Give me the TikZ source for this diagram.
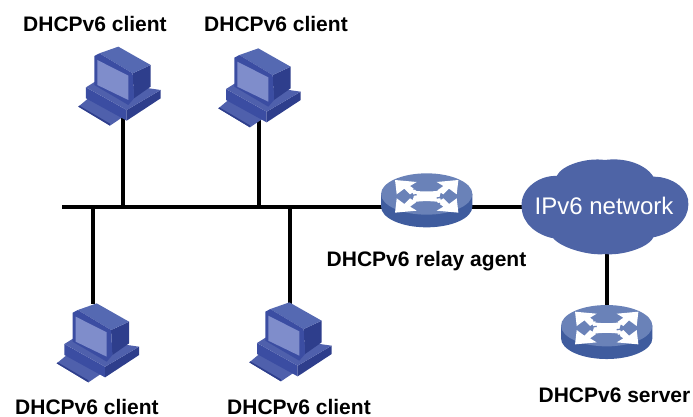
\documentclass[tikz,border=0pt]{standalone}
\usepackage{fontspec}
\setmainfont{Liberation Sans}
\definecolor{pcdark}{HTML}{2E3E8C}
\definecolor{pcmid}{HTML}{4F60AC}
\definecolor{pctop}{HTML}{5569B2}
\definecolor{pcscreen}{HTML}{7F8DCB}
\definecolor{pcframe}{HTML}{3B4DA2}
\definecolor{rttop}{HTML}{6A82B8}
\definecolor{rtside}{HTML}{3F5C9E}
\definecolor{cloudc}{HTML}{4E64A6}
\tikzset{
  lnk/.style={line width=3.7pt,black},
  lbl/.style={font=\bfseries\fontsize{21}{24}\selectfont,text=black,inner sep=0pt,anchor=base},
  pc/.pic={
    \begin{scope}[x=0.3333pt,y=-0.3333pt]
    \fill[pcmid] (55,230)--(85,205)--(190,260)--(150,287)--cycle;
    \fill[pcdark] (55,230)--(150,287)--(150,281)--(58,227)--cycle;
    \fill[pcframe] (78,172)--(78,205)--(200,272)--(200,240)--cycle;
    \fill[pcdark] (200,240)--(302,180)--(302,205)--(200,272)--cycle;
    \fill[pcmid] (78,172)--(110,152)--(302,180)--(200,240)--cycle;
    \fill[pcdark] (218,130)--(272,105)--(272,170)--(222,205)--cycle;
    \fill[pctop] (118,70)--(175,50)--(272,105)--(218,130)--cycle;
    \fill[pcframe] (103,78)--(118,70)--(218,130)--(222,205)--(205,225)--(103,165)--cycle;
    \fill[pcscreen] (112,90)--(205,137)--(205,210)--(112,165)--cycle;
    \end{scope}
  },
  rt/.pic={
    \begin{scope}[x=0.3333pt,y=-0.3333pt]
    \fill[rtside] (-137,0)--(-137,38) arc[start angle=180,end angle=0,x radius=137,y radius=62]--(137,0)--cycle;
    \fill[rttop] (0,0) ellipse[x radius=137,y radius=62];
    \foreach \sx/\sy in {1/1,-1/1,1/-1,-1/-1}{
      \begin{scope}[shift={(0,7)},xscale=\sx,yscale=\sy]
      \fill[white] (-95,-49)--(-30,-43)--(-50,-31)--(-32,-18)--(-50,-6)--(-67,-23)--(-90,-6)--cycle;
      \end{scope}
    }
    \fill[white] (-50,-12) .. controls (-20,-6) and (20,-6) .. (50,-12)
      .. controls (35,1) and (35,13) .. (50,26)
      .. controls (20,20) and (-20,20) .. (-50,26)
      .. controls (-35,13) and (-35,1) .. (-50,-12)--cycle;
    \draw[rttop,line width=1.3pt] (-40,-14) .. controls (-20,-24) and (5,-2) .. (30,-16);
    \draw[rttop,line width=1.3pt] (-30,30) .. controls (-5,16) and (20,38) .. (40,28);
    \draw[rttop,line width=1.3pt] (-64,12) .. controls (-52,8) and (-40,2) .. (-30,2);
    \draw[rttop,line width=1.3pt] (64,2) .. controls (52,6) and (40,12) .. (30,12);
    \end{scope}
  },
}
\begin{document}
\begin{tikzpicture}[x=1pt,y=-1pt]
\useasboundingbox (0,0) rectangle (693,417);
\coordinate (busl) at (62,207);
\coordinate (j1) at (123,207);
\coordinate (j2) at (259,207);
\coordinate (j3) at (93,207);
\coordinate (j4) at (290,207);
\coordinate (p1) at (123,118);
\coordinate (p2) at (259,118);
\coordinate (p3) at (93,304);
\coordinate (p4) at (290,304);
\coordinate (r1) at (426.7,207);
\coordinate (c1) at (530,207);
\coordinate (c2) at (607,250);
\coordinate (r2) at (607,310);
\draw[lnk] (busl)--(r1);
\draw[lnk] (r1)--(c1);
\draw[lnk] (j1)--(p1);
\draw[lnk] (j2)--(p2);
\draw[lnk] (j3)--(p3);
\draw[lnk] (j4)--(p4);
\draw[lnk] (c2)--(r2);
\pic at (60,30) {pc};
\pic at (200,31.7) {pc};
\pic at (38.4,286.7) {pc};
\pic at (231,285.7) {pc};
\pic at (426.7,194) {rt};
\pic at (606.7,325.7) {rt};
\begin{scope}[shift={(510,150)},x=0.3333pt,y=-0.3333pt]
\fill[cloudc] (35,170)
 .. controls (30,115) and (90,75) .. (140,78)
 .. controls (155,45) and (230,22) .. (285,30)
 .. controls (340,22) and (405,40) .. (430,80)
 .. controls (490,80) and (540,120) .. (535,165)
 .. controls (535,210) and (490,250) .. (430,262)
 .. controls (415,295) and (330,318) .. (285,312)
 .. controls (240,318) and (155,295) .. (130,265)
 .. controls (80,255) and (35,220) .. (35,170)--cycle;
\end{scope}
\node[inner sep=0pt,text=white,font=\fontsize{24}{28}\selectfont,anchor=base] (cloud) at (604,214) {IPv6 network};
\node[lbl] (t1) at (95,32) {DHCPv6 client};
\node[lbl] (t2) at (276,32) {DHCPv6 client};
\node[lbl] (t3) at (87,414) {DHCPv6 client};
\node[lbl] (t4) at (299,414) {DHCPv6 client};
\node[lbl] (t5) at (426.5,266) {DHCPv6 relay agent};
\node[lbl] (t6) at (614.5,402) {DHCPv6 server};
\end{tikzpicture}
\end{document}
